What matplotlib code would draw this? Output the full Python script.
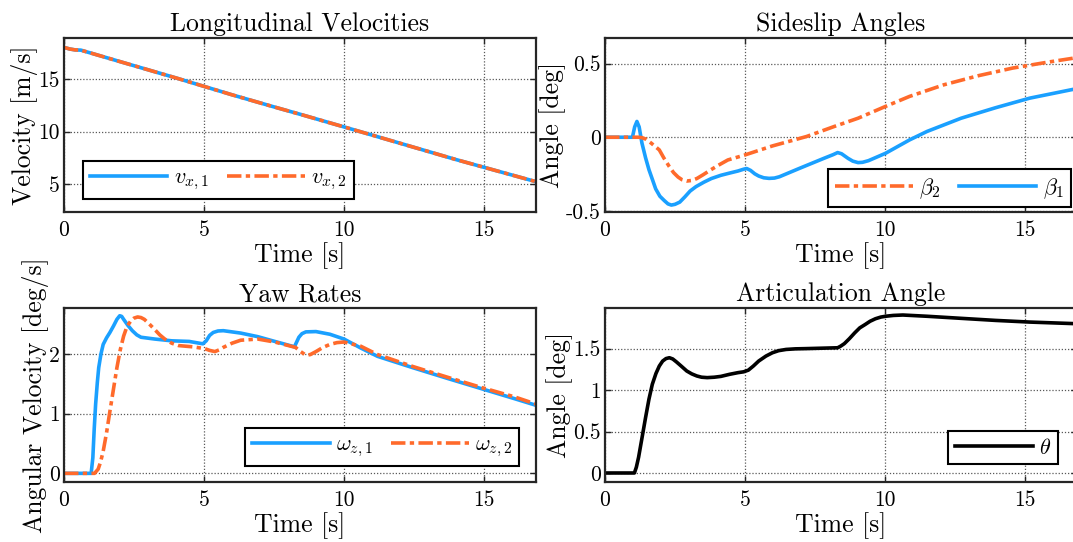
import matplotlib
matplotlib.use("Agg")
import matplotlib.pyplot as plt
from matplotlib.ticker import FuncFormatter

plt.rcParams['font.family'] = ['cmr10', 'DejaVu Serif']
plt.rcParams['mathtext.fontset'] = 'cm'
plt.rcParams['axes.formatter.use_mathtext'] = True

# ---------------- data ----------------
t_v = [0, 0.2, 0.4, 0.6, 2, 4, 5, 6, 7.5, 8.5, 10, 12, 14, 16.86]
vx1 = [18.0, 17.85, 17.76, 17.74, 16.65, 15.1, 14.3, 13.5, 12.35, 11.6, 10.45, 8.9, 7.35, 5.25]
vx2 = [18.0, 17.85, 17.76, 17.74, 16.65, 15.1, 14.3, 13.5, 12.35, 11.6, 10.45, 8.9, 7.35, 5.25]

t_b1 = [0, 0.98, 1.06, 1.14, 1.22, 1.32, 1.45, 1.57, 1.7, 1.81, 1.96, 2.12, 2.25, 2.37, 2.5,
        2.67, 2.85, 3.04, 3.25, 3.53, 3.8, 4.14, 4.45, 4.75, 4.95, 5.06, 5.2, 5.35, 5.49, 5.67,
        5.86, 6.05, 6.23, 6.96, 7.82, 8.15, 8.31, 8.45, 8.68, 8.85, 9.04, 9.2, 9.41, 10.02,
        10.88, 11.5, 12.72, 13.95, 15.17, 16.86]
beta1 = [0, 0, 0.07, 0.107, 0.07, -0.04, -0.14, -0.22, -0.29, -0.35, -0.40, -0.43, -0.452,
         -0.46, -0.455, -0.44, -0.405, -0.365, -0.335, -0.305, -0.28, -0.258, -0.243, -0.229,
         -0.217, -0.212, -0.225, -0.248, -0.263, -0.275, -0.279, -0.277, -0.268, -0.21, -0.143,
         -0.118, -0.104, -0.112, -0.143, -0.162, -0.172, -0.17, -0.159, -0.109, -0.018, 0.039,
         0.129, 0.20, 0.265, 0.33]

t_b2 = [0, 1.2, 1.32, 1.45, 1.65, 1.94, 2.1, 2.3, 2.45, 2.61, 2.75, 2.92, 3.1, 3.28, 3.5,
        3.77, 4.05, 4.39, 5.0, 5.98, 7.2, 8.19, 9.04, 10.02, 10.88, 12.11, 13.33, 14.56, 15.78,
        16.86]
beta2 = [0, 0, -0.003, -0.012, -0.04, -0.086, -0.14, -0.2, -0.24, -0.27, -0.288, -0.297,
         -0.293, -0.28, -0.255, -0.222, -0.19, -0.154, -0.12, -0.059, 0.005, 0.073, 0.129,
         0.209, 0.277, 0.356, 0.417, 0.469, 0.508, 0.54]

t_w1 = [0, 0.97, 1.03, 1.08, 1.13, 1.19, 1.24, 1.32, 1.4, 1.52, 1.64, 1.77, 1.89, 1.99, 2.06,
        2.13, 2.28, 2.44, 2.6, 2.75, 3.24, 3.85, 4.47, 4.96, 5.08, 5.2, 5.33, 5.5, 5.69, 6.31,
        6.92, 7.53, 8.23, 8.3, 8.39, 8.5, 8.64, 9.0, 9.5, 10.0, 10.6, 11.2, 12.46, 13.7, 14.9,
        16.1, 16.86]
wz1 = [0, 0, 0.26, 0.75, 1.16, 1.52, 1.77, 2.0, 2.16, 2.27, 2.36, 2.47, 2.58, 2.64, 2.63,
       2.58, 2.48, 2.39, 2.32, 2.28, 2.25, 2.22, 2.21, 2.17, 2.22, 2.31, 2.36, 2.385, 2.39, 2.35,
       2.29, 2.21, 2.12, 2.19, 2.28, 2.34, 2.37, 2.375, 2.33, 2.25, 2.1, 1.96, 1.77, 1.59, 1.42,
       1.25, 1.14]

t_w2 = [0, 1.09, 1.22, 1.3, 1.4, 1.52, 1.64, 1.77, 1.89, 2.01, 2.13, 2.25, 2.38, 2.5, 2.63,
        2.75, 2.87, 3.05, 3.24, 3.42, 3.6, 3.85, 4.1, 4.59, 5.02, 5.2, 5.39, 5.55, 5.69, 6.0,
        6.31, 6.92, 7.53, 8.27, 8.45, 8.64, 8.8, 9.0, 9.25, 9.5, 9.75, 10.0, 10.6, 11.2, 12.46,
        13.7, 14.9, 16.1, 16.86]
wz2 = [0, 0, 0.07, 0.18, 0.37, 0.68, 1.04, 1.42, 1.77, 2.07, 2.30, 2.46, 2.55, 2.60, 2.62,
       2.61, 2.58, 2.50, 2.41, 2.32, 2.25, 2.18, 2.14, 2.12, 2.09, 2.06, 2.04, 2.07, 2.11,
       2.18, 2.23, 2.25, 2.20, 2.11, 2.04, 1.98, 1.99, 2.04, 2.11, 2.16, 2.19, 2.2, 2.13,
       1.99, 1.79, 1.61, 1.44, 1.28, 1.16]

t_th = [0, 1.05, 1.12, 1.2, 1.32, 1.45, 1.57, 1.69, 1.82, 1.94, 2.06, 2.18, 2.3, 2.42, 2.55,
        2.72, 2.92, 3.1, 3.28, 3.45, 3.65, 3.9, 4.14, 4.45, 4.75, 4.95, 5.12, 5.3, 5.49, 5.75,
        5.98, 6.2, 6.47, 6.8, 7.2, 8.31, 8.42, 8.55, 8.73, 8.92, 9.1, 9.29, 9.47, 9.66, 9.85,
        10.02, 10.3, 10.64, 11.5, 12.72, 13.95, 15.17, 16.86]
theta = [0, 0, 0.07, 0.19, 0.42, 0.67, 0.89, 1.07, 1.2, 1.29, 1.35, 1.38, 1.39, 1.375, 1.34,
         1.29, 1.23, 1.195, 1.17, 1.155, 1.15, 1.155, 1.165, 1.19, 1.21, 1.22, 1.24, 1.29, 1.35,
         1.41, 1.45, 1.475, 1.49, 1.497, 1.50, 1.51, 1.53, 1.56, 1.62, 1.69, 1.75, 1.79, 1.83,
         1.86, 1.88, 1.89, 1.9, 1.905, 1.89, 1.865, 1.84, 1.82, 1.80]

xticks = [0, 5, 10, 15]
yticks_v = [5, 10, 15]
yticks_b = [-0.5, 0, 0.5]
yticks_w = [0, 1, 2]
yticks_th = [0, 0.5, 1, 1.5]

# ---------------- style ----------------
BLUE = '#1AA0FF'
ORANGE = '#FF6A2B'
LW = 2.6
DASH = (4.0, 1.2, 1.2, 1.2)
FS_LAB = 18.5
FS_TICK = 15.5
FS_LEG = 16

fig = plt.figure(figsize=(10.73, 5.42), dpi=100)

W = 472 / 1073
H_top = (212 - 37.7) / 542
H_bot = (481.7 - 308.3) / 542
ax1 = fig.add_axes([64 / 1073, (542 - 212) / 542, W, H_top])
ax2 = fig.add_axes([605 / 1073, (542 - 212) / 542, W, H_top])
ax3 = fig.add_axes([64 / 1073, (542 - 481.7) / 542, W, H_bot])
ax4 = fig.add_axes([605 / 1073, (542 - 481.7) / 542, W, H_bot])

fmt = FuncFormatter(lambda v, p: ('%g' % v).replace('\u2212', '-'))


def style(ax, title, ylabel, yticks, ylim):
    ax.set_xlim(0, 16.86)
    ax.set_ylim(*ylim)
    ax.set_xticks(xticks)
    ax.set_yticks(yticks)
    ax.xaxis.set_major_formatter(fmt)
    ax.yaxis.set_major_formatter(fmt)
    ax.grid(True, linestyle=(0, (1, 1.5)), color='0.35', linewidth=0.9)
    ax.set_axisbelow(True)
    ax.tick_params(direction='in', length=4, width=1, top=True, right=True,
                   labelsize=FS_TICK, color='#262626')
    ax.tick_params(axis='x', pad=6)
    ax.tick_params(axis='y', pad=3)
    for s in ax.spines.values():
        s.set_linewidth(1.6)
        s.set_color('#262626')
    ax.set_title(title, fontsize=FS_LAB, pad=5)
    ax.set_xlabel('Time [s]', fontsize=FS_LAB, labelpad=2)
    ax.set_ylabel(ylabel, fontsize=FS_LAB, labelpad=0)


def leg(ax, handles, labels, loc, anchor, ncol):
    lg = ax.legend(handles, labels, loc=loc, bbox_to_anchor=anchor, ncol=ncol,
                   fontsize=FS_LEG, frameon=True, fancybox=False, framealpha=1,
                   edgecolor='black', handlelength=3.5, handletextpad=0.3,
                   columnspacing=0.8, borderpad=0.3, borderaxespad=0)
    lg.get_frame().set_linewidth(1.5)


# Longitudinal velocities
l1, = ax1.plot(t_v, vx1, color=BLUE, lw=LW)
l2, = ax1.plot(t_v, vx2, color=ORANGE, lw=LW, dashes=DASH)
style(ax1, 'Longitudinal Velocities', 'Velocity [m/s]', yticks_v, (2.37, 18.92))
leg(ax1, [l1, l2], [r'$v_{x,1}$', r'$v_{x,2}$'], 'lower left', (0.04, 0.075), 2)

# Sideslip angles
b1, = ax2.plot(t_b1, beta1, color=BLUE, lw=LW)
b2, = ax2.plot(t_b2, beta2, color=ORANGE, lw=LW, dashes=DASH)
style(ax2, 'Sideslip Angles', 'Angle [deg]', yticks_b, (-0.507, 0.675))
leg(ax2, [b2, b1], [r'$\beta_2$', r'$\beta_1$'], 'lower right', (0.987, 0.027), 2)

# Yaw rates
w1, = ax3.plot(t_w1, wz1, color=BLUE, lw=LW)
w2, = ax3.plot(t_w2, wz2, color=ORANGE, lw=LW, dashes=DASH)
style(ax3, 'Yaw Rates', 'Angular Velocity [deg/s]', yticks_w, (-0.14, 2.765))
leg(ax3, [w1, w2], [r'$\omega_{z,1}$', r'$\omega_{z,2}$'], 'lower right', (0.964, 0.09), 2)

# Articulation angle
th, = ax4.plot(t_th, theta, color='black', lw=LW)
style(ax4, 'Articulation Angle', 'Angle [deg]', yticks_th, (-0.105, 1.986))
leg(ax4, [th], [r'$\theta$'], 'lower right', (0.96, 0.1), 1)

fig.savefig('out.png', dpi=100)
